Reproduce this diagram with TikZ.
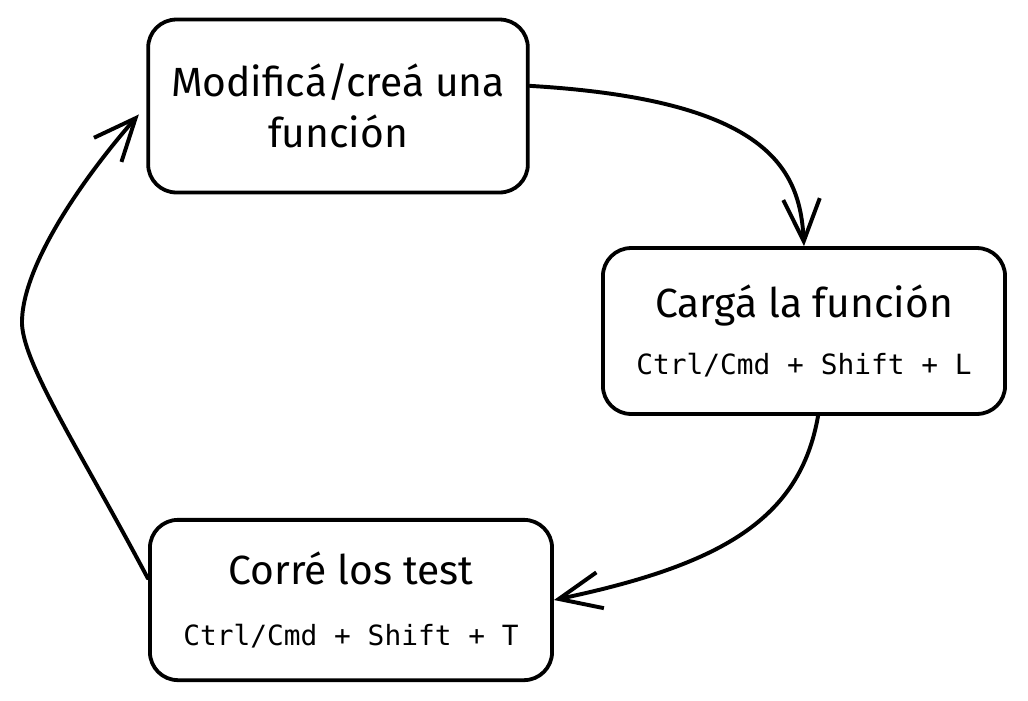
\documentclass[tikz,border=0pt]{standalone}
\usepackage{fontspec}
\setmainfont{Fira Sans}
\newfontfamily\codefont{DejaVu Sans Mono}
\usetikzlibrary{arrows.meta}

\newcommand{\keys}[1]{{\codefont\fontsize{19.8}{26}\selectfont #1}}

\begin{document}
\begin{tikzpicture}[
  x=0.025cm, y=-0.025cm,
  line cap=round, line join=round,
  box/.style={draw, line width=2.7pt, rounded corners=20pt, align=center,
              font=\fontsize{29}{36}\selectfont},
  flow/.style={line width=2.8pt, -{Straight Barb[length=30pt,width=26pt]}}
]
\useasboundingbox (0,0) rectangle (1028,700);

% --- the three steps
\node[box, minimum width=270pt, minimum height=123pt] (mod) at (338,106)
  {Modificá/creá una\\función};
\node[box, minimum width=286pt, minimum height=118pt] (carga) at (804,331)
  {Cargá la función\\[4pt]\keys{Ctrl/Cmd + Shift + L}};
\node[box, minimum width=286pt, minimum height=114pt] (corre) at (351,600)
  {Corré los test\\[8pt]\keys{Ctrl/Cmd + Shift + T}};

% --- the loop
\draw[flow] (mod.6) .. controls (770,100) and (800,170) .. (carga.north);
\draw[flow] ([xshift=10pt]carga.south) .. controls (800,520) and (720,565) .. (corre.east);
\draw[flow, shorten >=8pt] (corre.174) .. controls (80,450) and (20,360) .. (22,320)
  .. controls (24,260) and (90,170) .. (mod.west);

\end{tikzpicture}
\end{document}
